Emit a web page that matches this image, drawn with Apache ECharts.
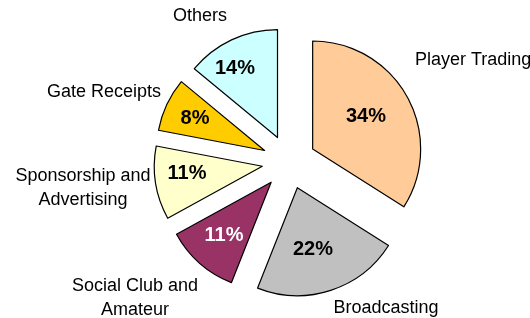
<!DOCTYPE html>
<html>
<head>
<meta charset="utf-8">
<script src="https://cdn.jsdelivr.net/npm/echarts@6.0.0/dist/echarts.min.js"></script>
<style>
  html, body { margin: 0; padding: 0; background: #fff; }
  #chart { width: 530px; height: 318px; }
</style>
</head>
<body>
<div id="chart"></div>
<script>
// revenue shares, clockwise from 12 o'clock
var categories = ['Player Trading', 'Broadcasting', 'Social Club and Amateur',
                  'Sponsorship and Advertising', 'Gate Receipts', 'Others'];
var shares = [34, 22, 11, 11, 8, 14];

var sliceColors = ['#FFCC99', '#C0C0C0', '#993366', '#FFFFCC', '#FFCC00', '#CCFFFF'];
var pctColors = ['#000', '#000', '#fff', '#000', '#000', '#000'];

// where excel put the labels (px)
var pctSpots = [[366, 116], [313, 249], [224, 235], [187, 173], [195, 118], [235, 68]];
var nameSpots = [[415, 60, 'left'], [386, 308, 'center'], [135, 298, 'center'],
                 [83, 188, 'center'], [104, 92, 'center'], [200, 16, 'center']];

var chart = echarts.init(document.getElementById('chart'));

var CENTER = [289, 162];
var R = 108;

// overlay pie: same wedges, invisible, only used to carry one set of labels
function labelPie(spots, fmt, extra) {
    return {
        type: 'pie',
        silent: true,
        center: CENTER,
        radius: R,
        startAngle: 90,
        avoidLabelOverlap: false,
        itemStyle: { color: 'transparent', borderWidth: 0 },
        label: Object.assign({
            show: true,
            position: 'inside',
            color: '#000',
            fontFamily: 'Liberation Sans',
            formatter: fmt
        }, extra),
        labelLine: { show: false },
        labelLayout: function (p) {
            var s = spots[p.dataIndex];
            return { x: s[0], y: s[1], align: s[2] || 'center', verticalAlign: 'middle' };
        },
        emphasis: { disabled: true },
        data: categories.map(function (c, i) {
            return { name: c, value: shares[i], label: { color: extra.colors ? extra.colors[i] : '#000' } };
        })
    };
}

var option = {
    animation: false,
    series: [
        {
            type: 'pie',
            silent: true,
            center: CENTER,
            radius: R,
            startAngle: 90,
            clockwise: true,
            selectedMode: 'multiple',
            selectedOffset: 27,
            itemStyle: { borderColor: '#000', borderWidth: 1.2 },
            label: { show: false },
            labelLine: { show: false },
            emphasis: { disabled: true },
            data: categories.map(function (c, i) {
                return {
                    name: c,
                    value: shares[i],
                    selected: true,
                    itemStyle: { color: sliceColors[i] }
                };
            })
        },
        labelPie(pctSpots, function (p) { return Math.round(p.percent) + '%'; },
                 { fontWeight: 'bold', fontSize: 20, colors: pctColors }),
        labelPie(nameSpots, function (p) { return p.name.replace(' and ', ' and\n'); },
                 { fontSize: 18, lineHeight: 24 })
    ]
};

chart.setOption(option);
</script>
</body>
</html>
